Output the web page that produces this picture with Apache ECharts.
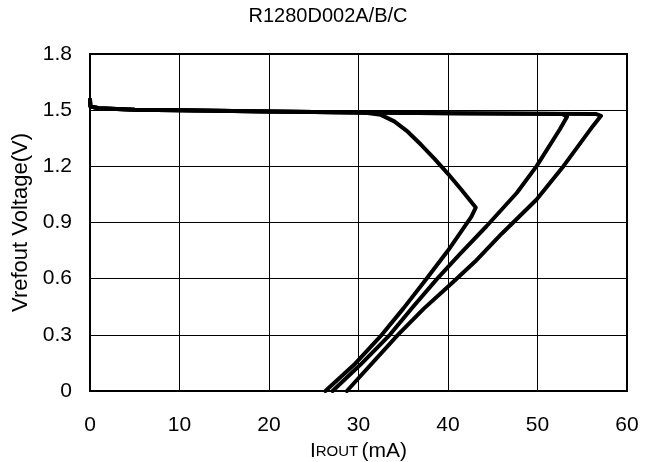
<!DOCTYPE html>
<html>
<head>
<meta charset="utf-8">
<script src="https://cdn.jsdelivr.net/npm/echarts@6/dist/echarts.min.js"></script>
<style>html,body{margin:0;padding:0;background:#fff;}#c{width:656px;height:462px;}</style>
</head>
<body>
<div id="c"></div>
<script>
// Data (x = IROUT mA, y = Vrefout V)
var titleText = 'R1280D002A/B/C';
var xTicks = [0, 10, 20, 30, 40, 50, 60];
var yTicks = [0, 0.3, 0.6, 0.9, 1.2, 1.5, 1.8];
var baseline = [[0,1.555],[0.05,1.52],[1,1.51],[5,1.502],[10,1.5],[20,1.493],[30,1.487]];
var curveA = [[31,1.485],[32.5,1.475],[34,1.44],[35.5,1.385],[37,1.315],[38.5,1.24],[40,1.16],[41.5,1.075],[43.1,0.98],[42.6,0.93],[40,0.75],[37.6,0.6],[35,0.44],[32.6,0.3],[29.5,0.14],[26.3,0]];
var curveB = [[40,1.484],[50,1.481],[52.8,1.479],[53.3,1.465],[52.5,1.398],[49.9,1.201],[47.7,1.059],[44.3,0.88],[41.3,0.73],[38.8,0.6],[36.1,0.45],[33.5,0.3],[30.2,0.14],[27.1,0]];
var curveC = [[40,1.484],[50,1.481],[56.5,1.48],[57.1,1.47],[56.2,1.416],[52.9,1.201],[49.9,1.023],[46.0,0.84],[43.0,0.69],[40.3,0.57],[37.3,0.44],[34.4,0.3],[28.7,0]];

var font = 'Liberation Sans, Arial, sans-serif';
function mk(name, pts) {
  return {
    name: name, type: 'line', data: baseline.concat(pts), showSymbol: false, symbol: 'none',
    lineStyle: { color: '#000', width: 4, join: 'round', cap: 'round' }, z: 3, animation: false
  };
}
var chart = echarts.init(document.getElementById('c'));
chart.setOption({
  animation: false,
  backgroundColor: '#fff',
  title: { text: titleText, left: 'center', top: 1, textStyle: { fontFamily: font, fontSize: 20, fontWeight: 'normal', color: '#000' } },
  grid: { left: 90, right: 29, top: 54, bottom: 71, outerBoundsMode: 'none', containLabel: false, show: true, borderColor: '#000', borderWidth: 2, backgroundColor: 'transparent' },
  xAxis: {
    type: 'value', min: xTicks[0], max: xTicks[xTicks.length-1], interval: 10,
    axisLine: { lineStyle: { color: '#000', width: 2 } },
    axisTick: { show: false },
    axisLabel: { color: '#000', fontFamily: font, fontSize: 21, margin: 24 },
    splitLine: { lineStyle: { color: '#000', width: 1 } },
    name: '{a|I}{b|ROUT} {a|(mA)}', nameLocation: 'middle', nameGap: 38,
    nameTextStyle: { rich: { a: { fontFamily: font, fontSize: 21, color: '#000' }, b: { fontFamily: font, fontSize: 15, color: '#000' } } }
  },
  yAxis: {
    type: 'value', min: yTicks[0], max: yTicks[yTicks.length-1], interval: 0.3,
    axisLine: { lineStyle: { color: '#000', width: 2 } },
    axisTick: { show: false },
    axisLabel: { color: '#000', fontFamily: font, fontSize: 21, margin: 18 },
    splitLine: { lineStyle: { color: '#000', width: 1 } },
    name: 'Vrefout Voltage(V)', nameLocation: 'middle', nameGap: 56,
    nameTextStyle: { fontFamily: font, fontSize: 22, color: '#000' }
  },
  series: [mk('A', curveA), mk('B', curveB), mk('C', curveC)]
});
</script>
</body>
</html>
